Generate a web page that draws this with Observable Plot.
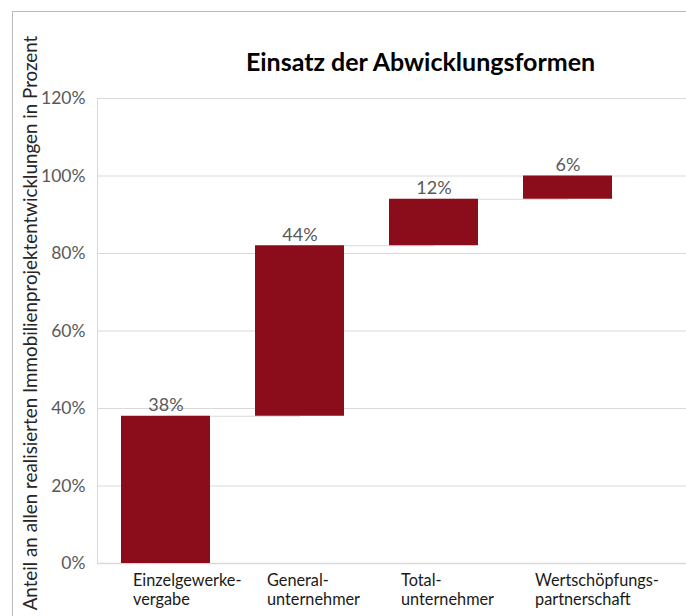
<!DOCTYPE html>
<html>
<head>
<meta charset="utf-8">
<script src="https://cdn.jsdelivr.net/npm/d3@7"></script>
<script src="https://cdn.jsdelivr.net/npm/@observablehq/plot@0.6"></script>
<style>
  html, body { margin: 0; padding: 0; background: #fff; overflow: hidden; }
  #wrap { position: relative; width: 686px; height: 616px; }
  #border { position: absolute; left: 12px; top: 11px; right: 0; bottom: 0;
            border-top: 1px solid #bcbcbc; border-left: 1px solid #bcbcbc; pointer-events: none; }
  #chart { position: absolute; left: 0; top: 0; }
</style>
</head>
<body>
<div id="wrap"><div id="chart"></div><div id="border"></div></div>
<script>
const title = "Einsatz der Abwicklungsformen";
const yLabel = "Anteil an allen realisierten Immobilienprojektentwicklungen in Prozent";
const categories = ["Einzelgewerkevergabe", "Generalunternehmer", "Totalunternehmer", "Wertschöpfungspartnerschaft"];
const tickLabels = ["Einzelgewerke-\nvergabe", "General-\nunternehmer", "Total-\nunternehmer", "Wertschöpfungs-\npartnerschaft"];
const values = [38, 44, 12, 6];
const yTicks = [0, 20, 40, 60, 80, 100, 120];

let acc = 0;
const rows = categories.map((c, i) => {
  const start = acc; acc += values[i];
  return {cat: c, label: tickLabels[i], value: values[i], start, end: acc};
});
const links = rows.slice(0, -1).map((r, i) => ({x1: r.cat, x2: rows[i + 1].cat, y: r.end}));

const font = "Lato, 'Open Sans', sans-serif";
const plot = Plot.plot({
  width: 686,
  height: 616,
  marginLeft: 97,
  marginRight: 0,
  marginTop: 98,
  marginBottom: 53,
  style: {fontFamily: font, fontSize: "17.5px", background: "#fff"},
  x: {domain: categories, range: [97.5, 635], paddingInner: 0.337, paddingOuter: 0.1685, axis: null},
  y: {domain: [0, 120], axis: null},
  marks: [
    Plot.gridY(yTicks, {stroke: "#d9d9d9", strokeOpacity: 1}),
    Plot.axisY(yTicks, {tickSize: 0, tickPadding: 12, tickFormat: d => d + "%", fill: "#595959", label: null}),
    Plot.frame({anchor: "left", stroke: "#d9d9d9"}),
    Plot.ruleY([0], {stroke: "#d9d9d9", strokeWidth: 1.5}),
    Plot.link(links, {x1: "x1", x2: "x2", y1: "y", y2: "y", stroke: "#d9d9d9", strokeWidth: 1}),
    Plot.barY(rows, {x: "cat", y1: "start", y2: "end", fill: "#8b0c1b"}),
    Plot.text(rows, {x: "cat", y: "end", text: d => d.value + "%", lineAnchor: "bottom", dy: -5,
                     fontSize: 18, fill: "#595959"}),
    Plot.text(rows, {x: "cat", frameAnchor: "bottom", text: "label", textAnchor: "start", lineAnchor: "top",
                     dx: -33, dy: 9, fontSize: 16.3, lineHeight: 1.17, fill: "#1a1a1a"}),
    Plot.text([title], {frameAnchor: "top", text: d => d, dx: 28.5, dy: -36, lineAnchor: "middle",
                        fontSize: 25, fontWeight: "bold", fill: "#000"}),
    Plot.text([yLabel], {frameAnchor: "left", text: d => d, rotate: -90, dx: -67, dy: -8,
                         textAnchor: "middle", lineAnchor: "middle", fontSize: 18.8, fill: "#262626"})
  ]
});
document.getElementById("chart").appendChild(plot);
</script>
</body>
</html>
